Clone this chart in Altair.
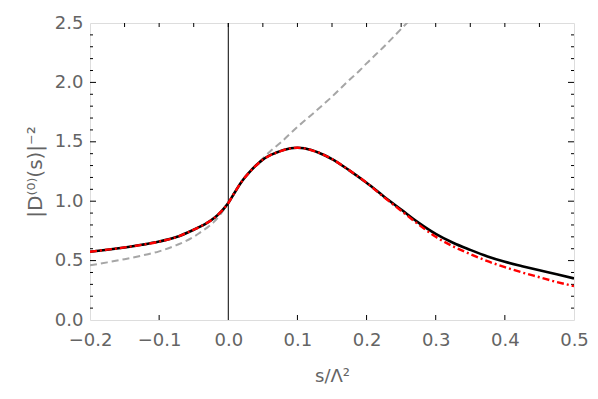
import altair as alt
import pandas as pd

# ---- data ----
x_main = [-0.2, -0.175, -0.15, -0.125, -0.1, -0.075, -0.05, -0.04, -0.03, -0.02, -0.01,
          0.0, 0.01, 0.02, 0.03, 0.04, 0.05, 0.06, 0.07, 0.08, 0.09, 0.10, 0.11, 0.12,
          0.13, 0.14, 0.15, 0.175, 0.2, 0.225, 0.25, 0.275, 0.3, 0.325, 0.35, 0.375,
          0.4, 0.425, 0.45, 0.475, 0.5]
y_black = [0.575, 0.592, 0.611, 0.633, 0.66, 0.698, 0.76, 0.788, 0.82, 0.86, 0.915,
           0.985, 1.08, 1.17, 1.24, 1.30, 1.35, 1.385, 1.41, 1.43, 1.445, 1.45, 1.445, 1.43,
           1.41, 1.385, 1.355, 1.26, 1.155, 1.04, 0.93, 0.82, 0.725, 0.65, 0.59, 0.535,
           0.49, 0.453, 0.418, 0.385, 0.35]
y_red = [0.575, 0.592, 0.611, 0.633, 0.66, 0.698, 0.76, 0.788, 0.82, 0.86, 0.915,
         0.985, 1.08, 1.17, 1.24, 1.30, 1.35, 1.385, 1.41, 1.43, 1.445, 1.45, 1.445, 1.43,
         1.41, 1.385, 1.355, 1.26, 1.155, 1.035, 0.92, 0.805, 0.70, 0.62, 0.555, 0.495,
         0.445, 0.40, 0.36, 0.32, 0.285]

x_gray = [-0.2, -0.175, -0.15, -0.125, -0.1, -0.075, -0.05, -0.04, -0.03, -0.02, -0.01,
          0.0, 0.01, 0.02, 0.03, 0.04, 0.05, 0.06, 0.075, 0.1, 0.125, 0.15, 0.175,
          0.19, 0.2, 0.225, 0.25, 0.265]
y_gray = [0.46, 0.485, 0.512, 0.542, 0.578, 0.63, 0.70, 0.74, 0.78, 0.83, 0.90,
          0.985, 1.08, 1.17, 1.24, 1.305, 1.36, 1.417, 1.49, 1.625, 1.75, 1.88, 2.02,
          2.10, 2.16, 2.30, 2.45, 2.54]

x_ticks_labels = [-0.2, -0.1, 0.0, 0.1, 0.2, 0.3, 0.4, 0.5]
y_ticks_labels = [0.0, 0.5, 1.0, 1.5, 2.0, 2.5]
top_ticks = [-0.15, -0.1, -0.05, 0.0, 0.05, 0.1, 0.15, 0.2, 0.25, 0.3, 0.35, 0.4, 0.45]
bottom_ticks = [-0.1, 0.1, 0.2, 0.3, 0.4]
y_major_ticks = [0.5, 1.0, 1.5, 2.0]
y_minor_ticks = [0.1, 0.2, 0.3, 0.4, 0.6, 0.7, 0.8, 0.9, 1.1, 1.2, 1.3, 1.4,
                 1.6, 1.7, 1.8, 1.9, 2.1, 2.2, 2.3, 2.4]
vline_x = [0.0]

W, H = 484, 297
FONT = "DejaVu Sans"
GRAY = "#646464"
FS = 18

xs = alt.Scale(domain=[-0.2, 0.5], nice=False, zero=False)
ys = alt.Scale(domain=[0, 2.5], nice=False, zero=False)

xaxis = alt.Axis(values=x_ticks_labels, format=".1f", ticks=False, domain=False, grid=False,
                 labelFontSize=FS, labelColor=GRAY, labelFont=FONT, labelPadding=11,
                 title="s/Λ²", titleFontSize=FS, titleColor=GRAY, titleFont=FONT,
                 titleFontWeight="normal", titlePadding=18, labelFlush=False)
yaxis = alt.Axis(values=y_ticks_labels, format=".1f", ticks=False, domain=False, grid=False,
                 labelFontSize=FS, labelColor=GRAY, labelFont=FONT, labelPadding=7,
                 title="|D⁽⁰⁾(s)|⁻²", titleFontSize=20, titleColor=GRAY, titleFont=FONT,
                 titleFontWeight="normal", titlePadding=9, labelFlush=False)

df_main = pd.DataFrame({"x": x_main, "black": y_black, "red": y_red})
df_gray = pd.DataFrame({"x": x_gray, "gray": y_gray})

gray = alt.Chart(df_gray).mark_line(color="#a6a6a6", strokeWidth=2, strokeDash=[7, 4], clip=True,
                                    interpolate="monotone").encode(
    x=alt.X("x:Q", scale=xs, axis=xaxis),
    y=alt.Y("gray:Q", scale=ys, axis=yaxis),
)
black = alt.Chart(df_main).mark_line(color="black", strokeWidth=2.6, clip=True,
                                     interpolate="monotone").encode(
    x=alt.X("x:Q", scale=xs), y=alt.Y("black:Q", scale=ys))
red = alt.Chart(df_main).mark_line(color="#ff0000", strokeWidth=2.4, strokeDash=[7, 3, 2, 3], clip=True,
                                   interpolate="monotone").encode(
    x=alt.X("x:Q", scale=xs), y=alt.Y("red:Q", scale=ys))

vline = alt.Chart(pd.DataFrame({"x": vline_x})).mark_rule(color="black", strokeWidth=1).encode(
    x=alt.X("x:Q", scale=xs), y=alt.value(0), y2=alt.value(H))

top_t = alt.Chart(pd.DataFrame({"t": top_ticks})).mark_rule(color="black", strokeWidth=1).encode(
    x=alt.X("t:Q", scale=xs), y=alt.value(0), y2=alt.value(4))
bot_t = alt.Chart(pd.DataFrame({"t": bottom_ticks})).mark_rule(color="black", strokeWidth=1).encode(
    x=alt.X("t:Q", scale=xs), y=alt.value(H), y2=alt.value(H - 5))
lmaj = alt.Chart(pd.DataFrame({"t": y_major_ticks})).mark_rule(color="black", strokeWidth=1).encode(
    y=alt.Y("t:Q", scale=ys), x=alt.value(0), x2=alt.value(6))
lmin = alt.Chart(pd.DataFrame({"t": y_minor_ticks})).mark_rule(color="black", strokeWidth=1).encode(
    y=alt.Y("t:Q", scale=ys), x=alt.value(0), x2=alt.value(3))
rmaj = alt.Chart(pd.DataFrame({"t": y_major_ticks})).mark_rule(color="black", strokeWidth=1).encode(
    y=alt.Y("t:Q", scale=ys), x=alt.value(W), x2=alt.value(W - 6))
rmin = alt.Chart(pd.DataFrame({"t": y_minor_ticks})).mark_rule(color="black", strokeWidth=1).encode(
    y=alt.Y("t:Q", scale=ys), x=alt.value(W), x2=alt.value(W - 3))

chart = alt.layer(gray, vline, top_t, bot_t, lmaj, lmin, rmaj, rmin, black, red).properties(
    width=W, height=H,
    autosize=alt.AutoSizeParams(type="none"),
    padding={"left": 82, "top": 15, "right": 16, "bottom": 72},
).configure_view(stroke="black", strokeWidth=1.2).configure(background="white")

chart.save("out.html", embed_options={"renderer": "svg", "actions": False})
